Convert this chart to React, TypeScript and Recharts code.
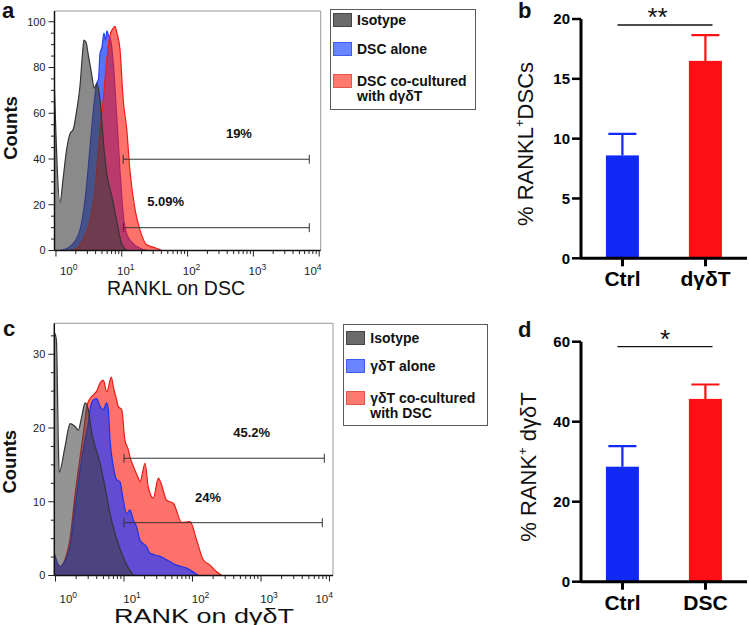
import React from 'react';
import {
  ComposedChart,
  Area,
  XAxis,
  YAxis,
  ReferenceLine,
  ReferenceDot,
  Legend,
  BarChart,
  Bar,
} from 'recharts';

const FONT = '"Liberation Sans", Arial, Helvetica, sans-serif';

type Pt = [number, number];

// ---------------- Panel a: RANKL on DSC (fluorescence, counts) ----------------
const aIsotype: Pt[] = [
  [0.95, 70], [1.15, 21], [1.29, 32], [1.45, 44], [1.63, 51], [1.83, 53], [2.06, 61],
  [2.32, 72], [2.53, 86], [2.66, 92], [2.86, 91], [3.12, 85], [3.49, 77], [3.82, 71],
  [4.16, 73], [4.67, 66], [5.24, 48], [5.89, 34], [7.03, 24], [8.37, 13], [9.96, 3], [11.9, 0],
];
const aDscAlone: Pt[] = [
  [1.15, 0], [1.63, 1.7], [2.32, 9], [2.76, 22], [3.29, 45], [3.69, 61], [4.15, 73],
  [4.43, 75], [4.66, 86], [5.0, 89], [5.36, 95], [5.65, 92], [5.96, 96], [6.28, 94],
  [6.62, 93], [7.1, 88], [7.61, 78], [8.16, 64], [8.75, 50], [9.39, 35], [10.1, 22],
  [10.8, 13], [12.0, 7], [14.3, 3.5], [18.9, 1], [25, 0],
];
const aDscCo: Pt[] = [
  [1.63, 0], [2.08, 1], [2.57, 4.6], [3.29, 13], [3.92, 26], [4.39, 43], [4.66, 53],
  [5.24, 66], [5.9, 83], [6.62, 94], [7.35, 97], [7.88, 98], [8.45, 95], [9.39, 88],
  [10.5, 66], [11.9, 53], [13.3, 35], [15.9, 18], [18.9, 9], [23.9, 2.5], [32, 1.2], [40.8, 0],
];
const aLegendLabels = [['Isotype'], ['DSC alone'], ['DSC co-cultured', 'with dγδT']];
const aGates = [
  { y: 39.9, from: 10.5, to: 7070 },
  { y: 9.97, from: 10.6, to: 7070 },
];
const aGateTexts = [
  { text: '19%', x: 603, y: 51.2 },
  { text: '5.09%', x: 46.4, y: 21.4 },
];
const aYTicks = [0, 5, 10, 15, 20, 25, 30, 35, 40, 45, 50, 55, 60, 65, 70, 75, 80, 85, 90, 95, 100];
const aYMajor = [0, 20, 40, 60, 80, 100];

// ---------------- Panel c: RANK on dγδT ----------------
const cIsotype: Pt[] = [
  [0.96, 33], [1.03, 32], [1.1, 18], [1.13, 14], [1.38, 17.5], [1.63, 20.6], [1.93, 20.2],
  [2.15, 19.7], [2.41, 21.5], [2.7, 23.4], [3.01, 22.5], [3.38, 19.3], [3.56, 18.4],
  [4.47, 15.2], [5.28, 12], [6.25, 8.4], [7.39, 5.7], [9.25, 3], [11.6, 1], [13.7, 0],
];
const cGdtAlone: Pt[] = [
  [0.96, 3], [1.16, 1.2], [1.38, 2], [1.63, 3.9], [1.93, 9.3], [2.28, 14.3], [2.7, 18.4],
  [3.01, 20.6], [3.19, 22.5], [3.56, 23.8], [3.99, 24], [4.47, 22.9], [4.99, 22.5],
  [5.59, 23.4], [5.9, 22.5], [6.25, 18.4], [6.98, 14.8], [7.82, 13], [8.74, 12.7],
  [9.77, 10.2], [10.9, 8.4], [12.2, 8.9], [13.7, 7.5], [15.3, 6.6], [17.1, 4.8],
  [21.4, 3.9], [24, 3], [33.6, 2.6], [58.8, 1.4], [82.3, 1], [122, 0],
];
const cGdtCo: Pt[] = [
  [0.96, 3], [1.16, 1.2], [1.38, 2.2], [1.63, 5], [1.93, 11], [2.28, 16], [2.61, 20],
  [2.88, 23], [3.19, 24], [3.56, 24.5], [3.99, 25], [4.47, 26.1], [4.99, 26.5], [5.59, 24.9],
  [6.53, 26.9], [6.98, 25.6], [7.82, 23.8], [8.26, 22.9], [9.25, 22.5], [10.3, 18.4],
  [11.6, 17], [12.2, 16.1], [13.7, 14.8], [16.2, 13.2], [17.1, 12.7], [20.3, 15.2],
  [22.6, 12], [26.8, 10.5], [31.7, 13.2], [34.7, 12.5], [42, 10.2], [52.5, 9.8],
  [69.5, 7.2], [92, 7.3], [115, 4.8], [144, 2.1], [180, 1.4], [225, 0.5], [267, 0],
];
const cLegendLabels = [['Isotype'], ['γδT alone'], ['γδT co-cultured', 'with DSC']];
const cGates = [
  { y: 15.9, from: 10, to: 8400 },
  { y: 7.16, from: 10, to: 7850 },
];
const cGateTexts = [
  { text: '45.2%', x: 731, y: 19.4 },
  { text: '24%', x: 168, y: 10.65 },
];
const cYTicks = [0, 2.5, 5, 7.5, 10, 12.5, 15, 17.5, 20, 22.5, 25, 27.5, 30, 32.5];
const cYMajor = [0, 10, 20, 30];

// log-axis ticks
const xMajorTicks = [1, 10, 100, 1000, 10000];
const xMinorTicks = [
  2, 3, 4, 5, 6, 7, 8, 9,
  20, 30, 40, 50, 60, 70, 80, 90,
  200, 300, 400, 500, 600, 700, 800, 900,
  2000, 3000, 4000, 5000, 6000, 7000, 8000, 9000,
];
const xTicks = [...xMajorTicks, ...xMinorTicks].sort((p, q) => p - q);

// ---------------- Panel b / d: bars ----------------
const bCategories = ['Ctrl', 'dγδT'];
const bMeans = [8.6, 16.5];
const bSems = [1.8, 2.15];
const bYTicks = [0, 5, 10, 15, 20];

const dCategories = ['Ctrl', 'DSC'];
const dMeans = [28.75, 45.7];
const dSems = [5.15, 3.6];
const dYTicks = [0, 20, 40, 60];

const barColors = ['#1029f5', '#fc1015'];
const legendSwatch = ['#6b6b6b', '#6a86ff', '#ff7a6e'];
const legendSwatchEdge = ['#444', '#3f5cf0', '#e0584c'];

// ---------------- helpers ----------------
const LogXTick = (p: any) => {
  const { x, y, payload, cfg } = p;
  const v = payload.value;
  const lg = Math.log10(v);
  const exp = Math.round(lg);
  const major = Math.abs(lg - exp) < 1e-6;
  let anchor: 'start' | 'middle' | 'end' = 'middle';
  let tx = x + cfg.dx;
  if (exp === 0) { anchor = 'start'; tx = x + 4; }
  if (exp === 4) { anchor = 'end'; tx = x + cfg.lastDx; }
  return (
    <g>
      <line x1={x} x2={x} y1={y} y2={y + (major ? 6 : 3.5)} stroke="#222" strokeWidth={1} />
      {major && (
        <text x={tx} y={y + cfg.base} textAnchor={anchor} fontSize={11.5} fill="#222">
          10<tspan dy={-5} fontSize={8.5}>{exp}</tspan>
        </text>
      )}
    </g>
  );
};

const HistYTick = (p: any) => {
  const { x, y, payload, majors } = p;
  const v = payload.value;
  const major = majors.includes(v);
  return (
    <g>
      <line x1={x} x2={x - (major ? 6 : 3.5)} y1={y} y2={y} stroke="#222" strokeWidth={1} />
      {major && (
        <text x={x - 9} y={y} dy="0.35em" textAnchor="end" fontSize={11} fill="#222">{v}</text>
      )}
    </g>
  );
};

function LegendBox({ labels, rows, w, h }: { labels: string[][]; rows: number[]; w: number; h: number }) {
  return (
    <div
      style={{
        position: 'relative', width: w, height: h, boxSizing: 'border-box',
        border: '1px solid #5a5a5a', background: '#fff', fontFamily: FONT,
        fontWeight: 700, fontSize: 14, color: '#111', textAlign: 'left',
      }}
    >
      {labels.map((lines, i) => (
        <React.Fragment key={i}>
          <div
            style={{
              position: 'absolute', left: 2, top: rows[i] - 1, width: 19, height: 14,
              background: legendSwatch[i], border: `1px solid ${legendSwatchEdge[i]}`, boxSizing: 'border-box',
            }}
          />
          {lines.map((t, j) => (
            <div key={j} style={{ position: 'absolute', left: 26, top: rows[i] - 1.5 + j * 15, lineHeight: '15px', whiteSpace: 'nowrap' }}>
              {t}
            </div>
          ))}
        </React.Fragment>
      ))}
    </div>
  );
}

type SeriesSpec = { key: string; pts: Pt[]; fill: string; stroke: string };

function Histogram(props: {
  width: number; height: number;
  plot: { l: number; t: number; r: number; b: number };
  xDomain: [number, number]; yTop: number; yTicks: number[]; yMajor: number[];
  series: SeriesSpec[];
  gates: { y: number; from: number; to: number }[];
  gateTexts: { text: string; x: number; y: number }[];
  xLabel: string; xLabelDx: number; xLabelBase: number; xLabelSize: number; xLabelLength?: number;
  countsX: number; countsY: number;
  tickCfg: { dx: number; lastDx: number; base: number };
  legendLabels: string[][]; legendBox: { x: number; y: number; w: number; h: number }; legendRows: number[];
}) {
  const { width, height, plot } = props;
  const xAxisH = 40;
  return (
    <ComposedChart
      width={width}
      height={height}
      margin={{ top: plot.t, right: width - plot.r, left: 0, bottom: height - plot.b - xAxisH }}
    >
      <XAxis
        dataKey="x"
        type="number"
        scale="log"
        domain={props.xDomain}
        allowDataOverflow
        ticks={xTicks}
        interval={0}
        height={xAxisH}
        tickSize={0}
        tickMargin={0}
        tickLine={false}
        axisLine={{ stroke: '#111', strokeWidth: 1.5 }}
        tick={(p: any) => <LogXTick {...p} cfg={props.tickCfg} />}
        label={() => (
          <text
            x={(plot.l + plot.r) / 2 + props.xLabelDx}
            y={plot.b + props.xLabelBase}
            textAnchor="middle"
            fontSize={props.xLabelSize}
            fill="#111"
            textLength={props.xLabelLength}
            lengthAdjust="spacingAndGlyphs"
          >
            {props.xLabel}
          </text>
        )}
      />
      <YAxis
        type="number"
        domain={[0, props.yTop]}
        allowDataOverflow
        ticks={props.yTicks}
        interval={0}
        width={plot.l}
        tickSize={0}
        tickMargin={0}
        tickLine={false}
        axisLine={{ stroke: '#111', strokeWidth: 1.5 }}
        tick={(p: any) => <HistYTick {...p} majors={props.yMajor} />}
        label={() => (
          <text
            x={props.countsX}
            y={props.countsY}
            transform={`rotate(-90 ${props.countsX} ${props.countsY})`}
            textAnchor="middle"
            dominantBaseline="central"
            fontSize={18.5}
            fontWeight="bold"
            fill="#111"
          >
            Counts
          </text>
        )}
      />
      {props.series.map((s) => (
        <Area
          key={s.key}
          name={s.key}
          data={s.pts.map(([x, y]) => ({ x, y }))}
          dataKey="y"
          type="monotone"
          fill={s.fill}
          fillOpacity={1}
          stroke={s.stroke}
          strokeWidth={1.2}
          isAnimationActive={false}
          dot={false}
          activeDot={false}
        />
      ))}
      <ReferenceLine y={props.yTop} stroke="#9a9a9a" strokeWidth={1} />
      <ReferenceLine x={props.xDomain[1]} stroke="#9a9a9a" strokeWidth={1} />
      {props.gates.map((g, i) => (
        <ReferenceLine
          key={'g' + i}
          segment={[{ x: g.from, y: g.y }, { x: g.to, y: g.y }]}
          stroke="#333"
          shape={(p: any) => (
            <g stroke="#333" strokeWidth={1}>
              <line x1={p.x1} y1={p.y1} x2={p.x2} y2={p.y2} />
              <line x1={p.x1} y1={p.y1 - 4.5} x2={p.x1} y2={p.y1 + 4.5} />
              <line x1={p.x2} y1={p.y2 - 4.5} x2={p.x2} y2={p.y2 + 4.5} />
            </g>
          )}
        />
      ))}
      {props.gateTexts.map((t, i) => (
        <ReferenceDot
          key={'t' + i}
          x={t.x}
          y={t.y}
          r={0}
          fill="none"
          stroke="none"
          label={(p: any) => {
            const vb = p.viewBox || { x: 0, y: 0, width: 0, height: 0 };
            return (
              <text
                x={vb.x + (vb.width || 0) / 2}
                y={vb.y + (vb.height || 0) / 2}
                dy="0.35em"
                textAnchor="middle"
                fontSize={13}
                fontWeight="bold"
                fill="#111"
              >
                {t.text}
              </text>
            );
          }}
        />
      ))}
      <Legend
        layout="horizontal"
        verticalAlign="middle"
        align="center"
        wrapperStyle={{ left: props.legendBox.x, top: props.legendBox.y, width: props.legendBox.w, height: props.legendBox.h }}
        content={() => (
          <LegendBox labels={props.legendLabels} rows={props.legendRows} w={props.legendBox.w} h={props.legendBox.h} />
        )}
      />
    </ComposedChart>
  );
}

const ErrBarShape = (p: any) => {
  const { x, y, width, height, index, payload } = p;
  const color = barColors[index % barColors.length];
  const unit = height / payload.mean;
  const yTop = y - payload.sem * unit;
  const cx = x + width / 2;
  return (
    <g>
      <rect x={x} y={y} width={width} height={height} fill={color} />
      <line x1={cx} x2={cx} y1={y} y2={yTop} stroke={color} strokeWidth={2.2} />
      <line x1={cx - 14} x2={cx + 14} y1={yTop} y2={yTop} stroke={color} strokeWidth={2.2} />
    </g>
  );
};

function SigBars(props: {
  width: number; height: number;
  plot: { l: number; t: number; r: number; b: number };
  categories: string[]; means: number[]; sems: number[];
  yMax: number; yTicks: number[];
  sigY: number; sigText: string; sigDx: number;
  yLabel: React.ReactNode; yLabelX: number; yLabelY: number;
}) {
  const { width, height, plot } = props;
  const data = props.categories.map((name, i) => ({ name, mean: props.means[i], sem: props.sems[i] }));
  const xAxisH = 30;
  return (
    <BarChart
      width={width}
      height={height}
      data={data}
      margin={{ top: plot.t, right: width - plot.r, left: 0, bottom: height - plot.b - xAxisH }}
      barCategoryGap="30%"
    >
      <XAxis
        dataKey="name"
        height={xAxisH}
        tickSize={8}
        tickMargin={5}
        axisLine={{ stroke: '#000', strokeWidth: 3 }}
        tickLine={{ stroke: '#000', strokeWidth: 3 }}
        tick={{ fill: '#000', fontSize: 21, fontWeight: 'bold' }}
        interval={0}
      />
      <YAxis
        type="number"
        domain={[0, props.yMax]}
        allowDataOverflow
        ticks={props.yTicks}
        interval={0}
        width={plot.l}
        tickSize={9}
        tickMargin={2}
        axisLine={{ stroke: '#000', strokeWidth: 3 }}
        tickLine={{ stroke: '#000', strokeWidth: 2.5 }}
        tick={{ fill: '#000', fontSize: 15, fontWeight: 'bold' }}
        label={() => (
          <text
            x={props.yLabelX}
            y={props.yLabelY}
            transform={`rotate(-90 ${props.yLabelX} ${props.yLabelY})`}
            textAnchor="middle"
            fontSize={22}
            fill="#111"
          >
            {props.yLabel}
          </text>
        )}
      />
      <Bar dataKey="mean" isAnimationActive={false} shape={(p: any) => <ErrBarShape {...p} />} />
      <ReferenceLine
        segment={[{ x: props.categories[0], y: props.sigY }, { x: props.categories[1], y: props.sigY }]}
        stroke="#111"
        shape={(p: any) => (
          <g>
            <line x1={p.x1 - 5} y1={p.y1} x2={p.x2 + 7} y2={p.y2} stroke="#111" strokeWidth={1.3} />
            <text
              x={(p.x1 - 5 + p.x2 + 7) / 2 + props.sigDx}
              y={p.y1 + 1.5}
              textAnchor="middle"
              fontSize={26}
              fill="#111"
            >
              {props.sigText}
            </text>
          </g>
        )}
      />
    </BarChart>
  );
}

export default function App() {
  return (
    <div style={{ position: 'absolute', left: 0, top: 0, width: 749, height: 625, background: '#fff', fontFamily: FONT, overflow: 'hidden' }}>
      <svg style={{ position: 'absolute', left: 0, top: 0 }} width={749} height={625}>
        <g fontSize={22} fontWeight="bold" fill="#111" fontFamily={FONT}>
          <text x={2} y={17.5}>a</text>
          <text x={518} y={17.5}>b</text>
          <text x={3} y={335.5}>c</text>
          <text x={518} y={336.5}>d</text>
        </g>
      </svg>

      <div style={{ position: 'absolute', left: 0, top: 0 }}>
        <Histogram
          width={480}
          height={300}
          plot={{ l: 54.5, t: 11, r: 320.7, b: 250.5 }}
          xDomain={[0.95, 10540]}
          yTop={104.7}
          yTicks={aYTicks}
          yMajor={aYMajor}
          series={[
            { key: 'DSC alone', pts: aDscAlone, fill: 'rgba(30,70,255,0.75)', stroke: '#2a3ff0' },
            { key: 'DSC co-cultured with dγδT', pts: aDscCo, fill: 'rgba(255,20,10,0.6)', stroke: '#f01c14' },
            { key: 'Isotype', pts: aIsotype, fill: 'rgba(60,60,60,0.6)', stroke: '#353535' },
          ]}
          gates={aGates}
          gateTexts={aGateTexts}
          xLabel="RANKL on DSC"
          xLabelDx={-11.6}
          xLabelBase={44.5}
          xLabelSize={19.5}
          countsX={10}
          countsY={128}
          tickCfg={{ dx: 4, lastDx: 2.4, base: 24.5 }}
          legendLabels={aLegendLabels}
          legendBox={{ x: 330, y: 9.3, w: 146, h: 101 }}
          legendRows={[4, 33, 65]}
        />
      </div>

      <div style={{ position: 'absolute', left: 0, top: 300 }}>
        <Histogram
          width={490}
          height={325}
          plot={{ l: 54.3, t: 23.3, r: 333, b: 275.5 }}
          xDomain={[0.96, 11250]}
          yTop={34.2}
          yTicks={cYTicks}
          yMajor={cYMajor}
          series={[
            { key: 'γδT co-cultured with DSC', pts: cGdtCo, fill: 'rgba(255,20,10,0.6)', stroke: '#e81c14' },
            { key: 'γδT alone', pts: cGdtAlone, fill: 'rgba(30,60,255,0.7)', stroke: '#1e32e6' },
            { key: 'Isotype', pts: cIsotype, fill: 'rgba(60,60,60,0.55)', stroke: '#353535' },
          ]}
          gates={cGates}
          gateTexts={cGateTexts}
          xLabel="RANK on dγδT"
          xLabelDx={10.4}
          xLabelBase={47}
          xLabelSize={20.5}
          xLabelLength={180}
          countsX={9.5}
          countsY={161.7}
          tickCfg={{ dx: 8, lastDx: 3.5, base: 27.5 }}
          legendLabels={cLegendLabels}
          legendBox={{ x: 343.3, y: 24.3, w: 145, h: 101.4 }}
          legendRows={[7, 35, 67]}
        />
      </div>

      <div style={{ position: 'absolute', left: 500, top: 0 }}>
        <SigBars
          width={249}
          height={300}
          plot={{ l: 81, t: 19, r: 247, b: 258.3 }}
          categories={bCategories}
          means={bMeans}
          sems={bSems}
          yMax={20}
          yTicks={bYTicks}
          sigY={19.5}
          sigText="**"
          sigDx={-7.5}
          yLabel={<>% RANKL<tspan dy={-9} fontSize={13}>+</tspan><tspan dy={9}>DSCs</tspan></>}
          yLabelX={33}
          yLabelY={144}
        />
      </div>

      <div style={{ position: 'absolute', left: 500, top: 300 }}>
        <SigBars
          width={249}
          height={325}
          plot={{ l: 81, t: 41.7, r: 247, b: 281.7 }}
          categories={dCategories}
          means={dMeans}
          sems={dSems}
          yMax={60}
          yTicks={dYTicks}
          sigY={58.75}
          sigText="*"
          sigDx={0}
          yLabel={<>% RANK<tspan dy={-9} fontSize={13}>+</tspan><tspan dy={9}> dγδT</tspan></>}
          yLabelX={36}
          yLabelY={167}
        />
      </div>
    </div>
  );
}
